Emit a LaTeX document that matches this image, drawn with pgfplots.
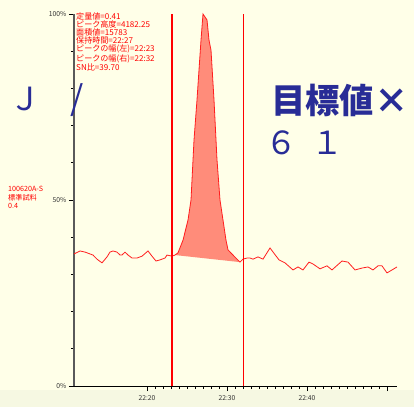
\documentclass[border=0pt]{standalone}
\usepackage{pgfplots}
\pgfplotsset{compat=1.18}
\usepackage{fontspec}
\setmainfont{Noto Sans CJK JP}
\definecolor{bg}{RGB}{255,255,232}
\definecolor{bgb}{RGB}{246,248,226}
\definecolor{txtblue}{RGB}{40,44,150}
\definecolor{trace}{RGB}{255,30,30}
\definecolor{peakfill}{RGB}{255,140,122}
\definecolor{axgray}{RGB}{90,90,90}
\begin{document}
\begin{tikzpicture}[x=1bp,y=1bp]
\useasboundingbox (0,0) rectangle (414,407);
\fill[bg] (0,0) rectangle (414,407);
\fill[bgb] (0,0) rectangle (414,17);
\begin{axis}[
  at={(74bp,21bp)}, anchor=south west,
  scale only axis, width=323bp, height=372bp,
  xmin=10.875, xmax=51.25, ymin=0, ymax=100,
  clip=false,
  axis lines=left,
  x axis line style={-, black, line width=0.8bp},
  y axis line style={-, axgray, line width=1.2bp},
  tick align=outside,
  major tick length=5bp, minor tick length=3bp,
  xtick={20,30,40,50}, xticklabels={22:20,22:30,22:40,{}},
  minor x tick num=9,
  ytick={0,50,100}, yticklabels={0\%,50\%,100\%},
  minor y tick num=4,
  x tick style={black, line width=0.6bp},
  y tick style={black, line width=0.6bp},
  tick label style={font=\fontsize{6.8}{7}\selectfont, text=black!80},
  xticklabel style={yshift=-1bp},
  yticklabel style={xshift=1bp},
]
\addplot[fill=peakfill, draw=none] coordinates {
(23.5,35.2) (23.875,35.8) (24.5,39.2) (25.125,44.6) (25.5,50.0) (25.875,66.1)
(26.25,76.9) (26.75,93.0) (27.0,100) (27.5,98.4) (27.75,93.0) (28.0,90.3)
(28.375,76.9) (28.75,60.8) (29.125,50.0) (29.875,39.2) (30.125,36.6)
(30.75,35.2) (31.25,34.1) (31.625,33.3)} -- cycle;
\addplot[trace, line width=0.8bp] coordinates {
(10.875,35.5) (11.625,36.3) (12.25,36.0) (12.875,35.5) (13.25,35.2) (13.75,34.1)
(14.375,33.1) (15.0,34.7) (15.375,36.0) (15.75,36.3) (16.25,36.0) (16.625,35.2)
(16.875,35.2) (17.25,36.0) (17.625,35.2) (18.125,34.4) (18.75,34.4) (19.375,34.9)
(20.125,36.3) (20.625,34.9) (21.125,33.6) (21.625,33.9) (22.25,34.4) (22.5,35.2)
(23.125,34.9) (23.5,35.2) (23.875,35.8) (24.5,39.2) (25.125,44.6) (25.5,50.0)
(25.875,66.1) (26.25,76.9) (26.75,93.0) (27.0,100) (27.5,98.4) (27.75,93.0)
(28.0,90.3) (28.375,76.9) (28.75,60.8) (29.125,50.0) (29.875,39.2) (30.125,36.6)
(30.75,35.2) (31.25,34.1) (31.625,33.3) (32.0,34.1) (32.5,34.4) (32.875,34.4)
(33.25,34.1) (33.875,34.7) (34.5,34.1) (35.375,37.1) (36.5,33.9) (37.25,33.1)
(38.25,31.2) (38.875,32.0) (39.5,31.2) (40.25,33.3) (40.75,32.8) (41.625,31.5)
(42.5,32.3) (43.125,31.2) (44.375,33.6) (45.125,33.3) (46.0,31.2) (46.875,31.7)
(47.625,32.0) (48.25,31.2) (48.875,32.3) (49.375,32.3) (50.0,30.4) (50.625,31.2)
(51.25,32.0)};
\addplot[red, line width=2bp] coordinates {(23.125,0) (23.125,100)};
\addplot[red, line width=0.8bp] coordinates {(32,0) (32,100)};
\end{axis}
\node[anchor=north west, align=left, inner sep=0pt, text=red,
  font=\fontsize{8.1}{8}\selectfont] at (76,394)
  {定量値=0.41\\ピーク高度=4182.25\\面積値=15783\\保持時間=22:27\\ピークの幅(左)=22:23\\ピークの幅(右)=22:32\\SN比=39.70};
\node[anchor=north west, align=left, inner sep=0pt, text=red,
  font=\fontsize{7.2}{8.5}\selectfont] at (8,221)
  {100620A-S\\標準試料\\0.4};
\node[text=txtblue, inner sep=0pt, font=\fontsize{32}{34}\selectfont] at (25,308) {Ｊ};
\node[text=txtblue, inner sep=0pt, font=\fontsize{34}{36}\selectfont] at (77,307) {/};
\node[text=txtblue, anchor=west, inner sep=0pt, font=\fontsize{34.5}{36}\selectfont\bfseries] at (271,307) {目標値×};
\node[text=txtblue, inner sep=0pt, font=\fontsize{32}{34}\selectfont] at (281,264) {６};
\node[text=txtblue, inner sep=0pt, font=\fontsize{32}{34}\selectfont] at (327,264) {１};
\end{tikzpicture}
\end{document}
